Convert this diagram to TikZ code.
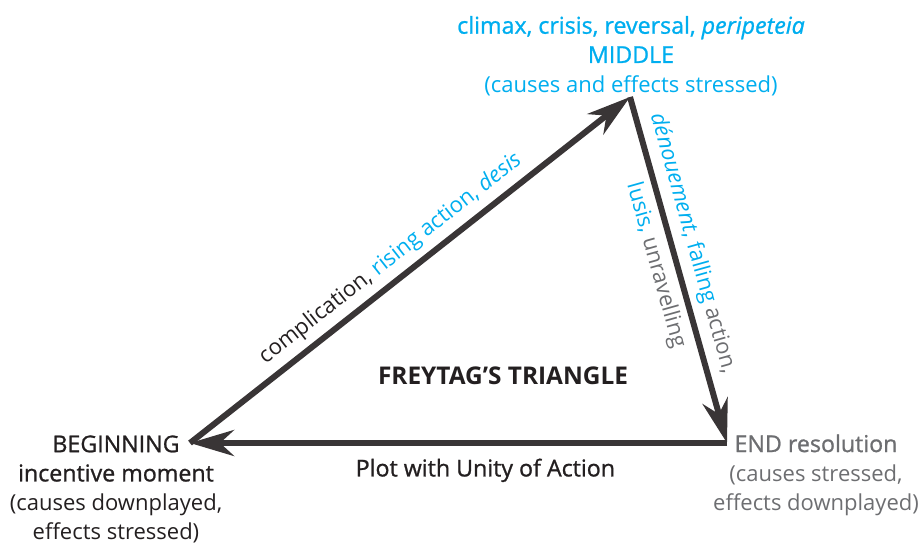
\documentclass[tikz,border=0pt]{standalone}
\usepackage{fontspec}
\setmainfont{Open Sans}
\newfontfamily\semib[FakeBold=1]{Open Sans}
\newcommand\subline{\fontsize{11}{14.6}\selectfont}
\usetikzlibrary{arrows.meta, positioning}

\definecolor{plotblue}{HTML}{00AEEF}
\definecolor{plotgrey}{HTML}{6D6E71}
\definecolor{plotdark}{HTML}{231F20}

\begin{document}
\begin{tikzpicture}[x=0.5pt, y=-0.5pt,
    side/.style={line width=3pt, draw=plotdark!90!white, line join=miter,
        -{Stealth[length=22pt, width=13pt, inset=7pt]}},
    corner/.style={align=center, inner sep=0pt, font=\fontsize{11.6}{14.6}\selectfont},
    edgetext/.style={sloped, font=\fontsize{11}{13}\selectfont}]
    \useasboundingbox (0,0) rectangle (919,547);

    \coordinate (beginning) at (190,443);
    \coordinate (middle) at (630,97);
    \coordinate (end) at (727,443);

    \node[corner, anchor=south, text=plotblue] (midtext) at (631,96)
        {{\semib climax, crisis, reversal, \itshape peripeteia}\\
         {\semib MIDDLE}\\
         \subline (causes and effects stressed)};
    \node[corner, anchor=north, text=plotdark] (begtext) at (116,435)
        {{\semib BEGINNING}\\
         {\semib incentive moment}\\
         \subline (causes downplayed,\\
         \subline effects stressed)};
    \node[corner, anchor=north, text=plotgrey] (endtext) at (816,434)
        {{\semib END resolution}\\
         \subline (causes stressed,\\
         \subline effects downplayed)};

    \node[font=\fontsize{12.2}{14}\selectfont\bfseries, text=plotdark] (title) at (503,376)
        {FREYTAG’S TRIANGLE};

    \draw[side] (beginning) -- node[edgetext, above, pos=0.485, text=plotdark] (risetext)
        {complication, \textcolor{plotblue}{rising action, \textit{desis}}} (middle);
    \draw[side] (middle)
        -- node[edgetext, above, pos=0.44, text=plotgrey] (fallout)
            {\textcolor{plotblue}{\textit{dénouement}, falling} action,}
           node[edgetext, below, pos=0.47, text=plotgrey] (fallin)
            {\textcolor{plotblue}{lusis,} unravelling} (end);
    \draw[side] (end) -- node[pos=0.45, below=3pt, text=plotdark,
        font=\fontsize{11.6}{13}\selectfont\semib] (plottext) {Plot with Unity of Action} (beginning);
\end{tikzpicture}
\end{document}
